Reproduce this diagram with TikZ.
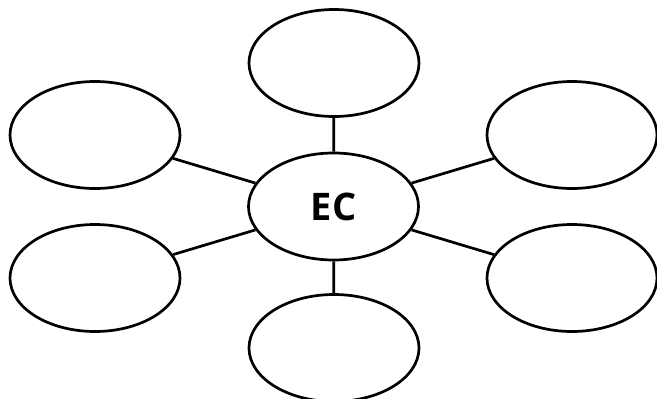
\documentclass[tikz,border=0pt]{standalone}
\usepackage{fontspec}
\setmainfont{Open Sans}
\usetikzlibrary{shapes.geometric}
\begin{document}
\begin{tikzpicture}[x=1pt,y=-1pt,
  bubble/.style={draw, ellipse, line width=2.7pt, minimum width=170pt, minimum height=107pt, inner sep=0pt},
  link/.style={line width=2.7pt}]
\useasboundingbox (0,0) rectangle (657,399);
\node[bubble] (c) at (333.5,206.5) {\fontsize{38}{44}\selectfont\bfseries EC};
\node[bubble] (t) at (334,63) {};
\node[bubble] (b) at (334,348) {};
\node[bubble] (lu) at (95,135) {};
\node[bubble] (ll) at (95,278) {};
\node[bubble] (ru) at (572,135) {};
\node[bubble] (rl) at (572,278) {};
\draw[link] (c) -- (t);
\draw[link] (c) -- (b);
\draw[link] (c) -- (lu);
\draw[link] (c) -- (ll);
\draw[link] (c) -- (ru);
\draw[link] (c) -- (rl);
\end{tikzpicture}
\end{document}
